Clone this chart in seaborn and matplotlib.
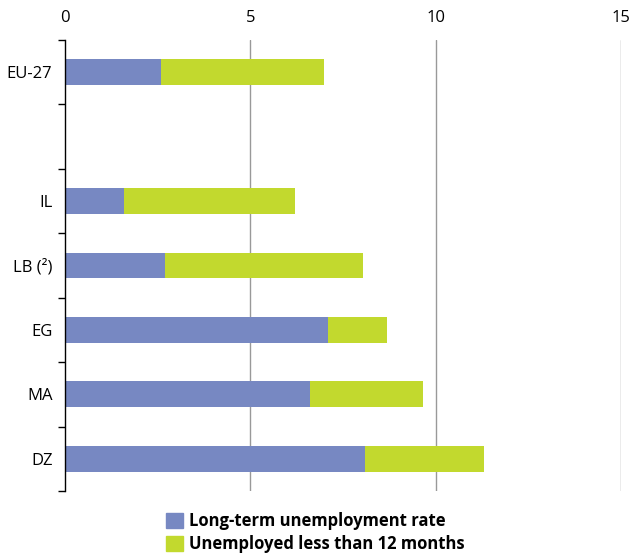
import matplotlib
matplotlib.use("Agg")
import matplotlib.pyplot as plt
import numpy as np
import pandas as pd
import seaborn as sns
from matplotlib.patches import Patch

sns.set_theme(style="white")
plt.rcParams['font.family'] = ['Open Sans', 'DejaVu Sans']

# data (percent)
countries = ["EU-27", "IL", "LB (²)", "EG", "MA", "DZ"]
long_term = [2.6, 1.6, 2.7, 7.1, 6.6, 8.1]
short_term = [4.4, 4.6, 5.35, 1.6, 3.05, 3.2]
slots = ["EU-27", " ", "IL", "LB (²)", "EG", "MA", "DZ"]

blue = "#7788C2"
green = "#C2D92E"

df = pd.DataFrame({"country": countries, "long": long_term, "short": short_term})
df["total"] = df["long"] + df["short"]

fig = plt.figure(figsize=(6.35, 5.56), dpi=100)
ax = fig.add_axes([65 / 635, 1 - 491 / 556, 556 / 635, 451 / 556])

# stacked: total drawn first in green, long-term in blue on top
sns.barplot(data=df, x="total", y="country", order=slots, color=green,
            width=0.4, saturation=1, linewidth=0, ax=ax)
sns.barplot(data=df, x="long", y="country", order=slots, color=blue,
            width=0.4, saturation=1, linewidth=0, ax=ax)

ax.set_xlim(0, 15)
ax.set_ylim(len(slots) - 0.5, -0.5)
ax.set_xticks([0, 5, 10, 15])
ax.xaxis.tick_top()
ax.tick_params(axis="x", length=0, labelsize=12, pad=10, labelcolor="black")
ax.set_xlabel("")
ax.set_ylabel("")

ax.set_yticks(range(len(slots)))
ax.set_yticklabels(slots)
ax.set_yticks(np.arange(-0.5, len(slots)), minor=True)
ax.tick_params(axis="y", which="major", length=0, labelsize=12, pad=9,
               labelcolor="black")
ax.tick_params(axis="y", which="minor", length=5, width=1, color="black",
               direction="out", left=True)

for s in ["top", "right", "bottom"]:
    ax.spines[s].set_visible(False)
ax.spines["left"].set_color("black")
ax.spines["left"].set_linewidth(1)

for v in [5, 10, 15]:
    ax.axvline(v, color="#999999", linewidth=1, zorder=0)

handles = [Patch(color=blue, label="Long-term unemployment rate"),
           Patch(color=green, label="Unemployed less than 12 months")]
fig.legend(handles=handles, loc="upper left",
           bbox_to_anchor=(166 / 635, 1 - 512 / 556), frameon=False,
           prop={"weight": "bold", "size": 12}, handlelength=1.0,
           handleheight=1.0, handletextpad=0.4, labelspacing=0.3,
           borderaxespad=0, borderpad=0, labelcolor="black")

fig.savefig("out.png", dpi=100)
